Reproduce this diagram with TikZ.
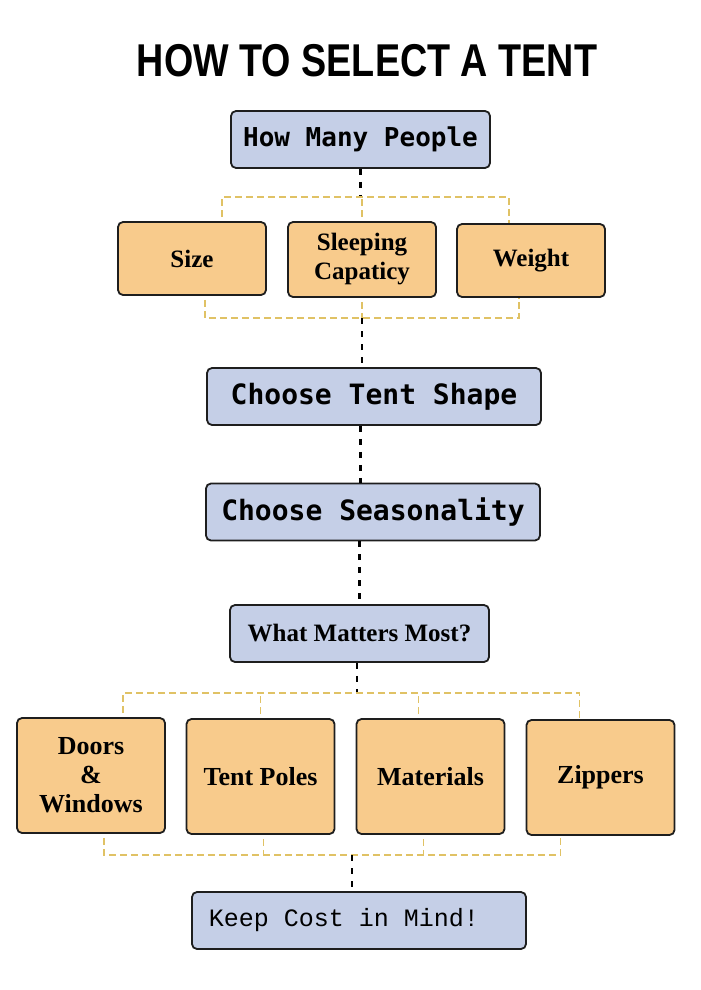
\documentclass[tikz,border=0pt]{standalone}
\usepackage{fontspec}
\usepackage{xcolor}
\usepackage{tikz}
\usetikzlibrary{arrows.meta, calc}
\newfontfamily\titlefont{Liberation Sans}[FakeStretch=0.82]
\newfontfamily\stepmono{DejaVu Sans Mono}
\newfontfamily\costmono{Liberation Mono}
\newfontfamily\factorserif{Liberation Serif}
\definecolor{stepblue}{HTML}{C5CFE7}
\definecolor{factororange}{HTML}{F8CB8C}
\definecolor{bracketyellow}{HTML}{E0C265}
\definecolor{boxline}{HTML}{1E1E1E}
\tikzset{
  stepbox/.style={draw=boxline, line width=1.8pt, rounded corners=5pt, fill=stepblue, align=center, minimum width=334pt, minimum height=57pt},
  smallstep/.style={stepbox, minimum width=259pt},
  factor/.style={draw=boxline, line width=1.8pt, rounded corners=5pt, fill=factororange, align=center, minimum width=148pt, inner sep=2pt},
  link/.style={line width=2.2pt, dash pattern=on 6pt off 7pt, black},
  bracket/.style={line width=1.8pt, dash pattern=on 7pt off 4pt, bracketyellow, shorten <=4pt},
  every node/.style={inner sep=3pt}
}
\begin{document}
\begin{tikzpicture}[x=1pt, y=1pt]
    \useasboundingbox (0,0) rectangle (701,-990);
    \node[font=\titlefont\bfseries\fontsize{46}{50}\selectfont] (title) at (367,-61) {HOW TO SELECT A TENT};

    % first question and its three factors
    \node[smallstep, font=\stepmono\bfseries\fontsize{26}{30}\selectfont] (people) at (360.5,-139.5) {How Many People};
    \node[factor, minimum height=73pt, font=\factorserif\bfseries\fontsize{25}{29}\selectfont] (size) at (192,-258.5) {Size};
    \node[factor, minimum height=75pt, font=\factorserif\bfseries\fontsize{25}{29}\selectfont] (sleeping) at (362,-259.5) {Sleeping\\Capaticy};
    \node[factor, minimum height=73pt, font=\factorserif\bfseries\fontsize{25}{29}\selectfont] (weight) at (531,-260.5) {Weight};

    \coordinate (peoplefork) at (360.5,-197);
    \coordinate (peoplejoin) at (362,-318);
    \draw[link] (people.south) -- (peoplefork);
    \draw[bracket] ([xshift=30pt]size.north) |- (peoplefork) -| ([xshift=-22pt]weight.north);
    \draw[bracket] (sleeping.north) -- (sleeping.north |- peoplefork);
    \draw[bracket] ([xshift=13pt]size.south) |- (peoplejoin) -| ([xshift=-12pt]weight.south);
    \draw[bracket] (sleeping.south) -- (peoplejoin);

    % shape and season
    \node[stepbox, font=\stepmono\bfseries\fontsize{28}{32}\selectfont] (shape) at (374,-396.5) {Choose Tent Shape};
    \node[stepbox, font=\stepmono\bfseries\fontsize{28}{32}\selectfont] (season) at (373,-512) {Choose Seasonality};
    \draw[link] (peoplejoin) -- (peoplejoin |- shape.north);
    \draw[link] (shape.south -| people) -- (season.north -| people);

    % second question and its four factors
    \node[smallstep, font=\factorserif\bfseries\fontsize{25}{29}\selectfont] (matters) at (359.5,-633.5) {What Matters Most?};
    \draw[link] (season.south -| matters) -- (matters.north);

    \node[factor, minimum height=115pt, font=\factorserif\bfseries\fontsize{26}{29}\selectfont] (doors) at (91,-775.5) {Doors\\\&\\Windows};
    \node[factor, minimum height=115pt, font=\factorserif\bfseries\fontsize{26}{29}\selectfont] (poles) at (260.5,-776.5) {Tent Poles};
    \node[factor, minimum height=115pt, font=\factorserif\bfseries\fontsize{26}{29}\selectfont] (materials) at (430.5,-776.5) {Materials};
    \node[factor, minimum height=115pt, font=\factorserif\bfseries\fontsize{26}{29}\selectfont] (zippers) at (600.5,-777.5) {Zippers};

    \coordinate (mattersfork) at (357,-693);
    \coordinate (mattersjoin) at (352,-855);
    \draw[link] (matters.south -| mattersfork) -- (mattersfork);
    \draw[bracket] ([xshift=32pt]doors.north) |- (mattersfork) -| ([xshift=-21pt]zippers.north);
    \draw[bracket] (poles.north) -- (poles.north |- mattersfork);
    \draw[bracket] ([xshift=-12pt]materials.north) -- ([xshift=-12pt]materials.north |- mattersfork);
    \draw[bracket] ([xshift=13pt]doors.south) |- (mattersjoin) -| ([xshift=-40pt]zippers.south);
    \draw[bracket] ([xshift=3pt]poles.south) -- ([xshift=3pt]poles.south |- mattersjoin);
    \draw[bracket] ([xshift=-7pt]materials.south) -- ([xshift=-7pt]materials.south |- mattersjoin);

    % last reminder
    \node[stepbox, font=\costmono\fontsize{25}{30}\selectfont] (cost) at (359,-920.5) {Keep Cost in Mind!\hspace{30pt}};
    \draw[link] (mattersjoin) -- (mattersjoin |- cost.north);
\end{tikzpicture}
\end{document}
